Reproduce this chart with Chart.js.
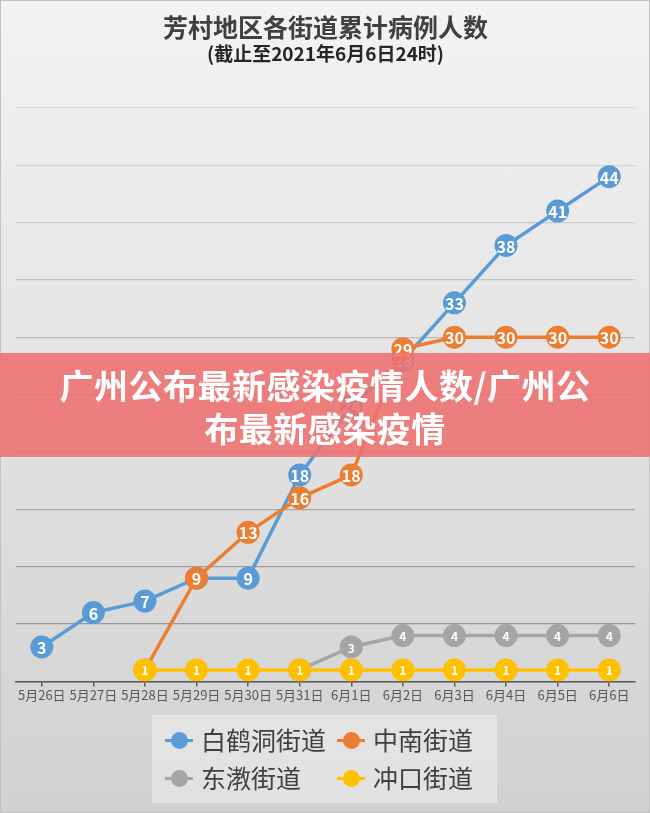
<!DOCTYPE html>
<html>
<head>
<meta charset="utf-8">
<script src="https://cdn.jsdelivr.net/npm/chart.js@4.4.0/dist/chart.umd.min.js"></script>
<style>
body { margin: 0; }
#wrap { position: relative; width: 650px; height: 813px; overflow: hidden;
  background: linear-gradient(#f3f3f3, #d1d1d1); box-shadow: inset 0 0 0 1px #c2c2c2;
  font-family: "Noto Sans CJK SC", sans-serif; }
#cv { position: absolute; left: 0; top: 0; width: 650px; height: 813px; }
#banner { position: absolute; left: 0; top: 353px; width: 650px; height: 104px;
  background: rgba(238, 112, 112, 0.88); color: #fff; font-weight: 700; font-size: 34px;
  letter-spacing: 0.5px; text-align: center; line-height: 43px; padding-top: 10px; box-sizing: border-box; }
#legend { position: absolute; left: 152px; top: 715px; width: 345px; height: 88px;
  background: rgba(255, 255, 255, 0.35); box-sizing: border-box; }
.item { position: absolute; height: 36px; line-height: 36px; font-size: 25px; color: #404040; white-space: nowrap; }
.mk { position: absolute; left: 0; top: 17px; width: 28px; height: 3px; }
.mk i { position: absolute; left: 6px; top: -7px; width: 17px; height: 17px; border-radius: 50%; }
.item span.t { position: absolute; left: 36px; top: -1px; }
</style>
</head>
<body>
<div id="wrap">
  <div id="cv"><canvas id="chart"></canvas></div>
  <div id="banner">广州公布最新感染疫情人数/广州公<br>布最新感染疫情</div>
  <div id="legend"></div>
</div>
<script>
// categories and series
const days = ['5月26日', '5月27日', '5月28日', '5月29日', '5月30日', '5月31日',
              '6月1日', '6月2日', '6月3日', '6月4日', '6月5日', '6月6日'];
const baihedong = [3, 6, 7, 9, 9, 18, 24, 28, 33, 38, 41, 44];
const zhongnan  = [null, null, 1, 9, 13, 16, 18, 29, 30, 30, 30, 30];
const dongjiao  = [null, null, null, null, null, 1, 3, 4, 4, 4, 4, 4];
const chongkou  = [null, null, 1, 1, 1, 1, 1, 1, 1, 1, 1, 1];

const names  = ['白鹤洞街道', '中南街道', '东漖街道', '冲口街道'];
const colors = ['#5b9bd5', '#ed7d31', '#a5a5a5', '#ffc000'];

// write the value inside each point, right after its own dataset is drawn
const pointLabels = {
  id: 'pointLabels',
  afterDatasetDraw(chart, args) {
    const ds = chart.data.datasets[args.index];
    const ctx = chart.ctx;
    ctx.save();
    ctx.fillStyle = '#fff';
    ctx.textAlign = 'center';
    ctx.textBaseline = 'middle';
    ctx.font = 'bold ' + ds.labelSize + 'px "Noto Sans CJK SC"';
    args.meta.data.forEach(function(pt, i) {
      if (ds.data[i] === null) return;
      ctx.fillText(ds.data[i], pt.x, pt.y + 1);
    });
    ctx.restore();
  }
};

function line(i, data, order, labelSize) {
  return {
    label: names[i],
    data: data,
    borderColor: colors[i],
    backgroundColor: colors[i],
    pointBackgroundColor: colors[i],
    pointBorderWidth: 0,
    pointRadius: 11.5,
    pointHoverRadius: 11.5,
    borderWidth: 3.5,
    order: order,
    labelSize: labelSize
  };
}

function mix(a, b, t) {
  return Math.round(a + (b - a) * t);
}

new Chart(document.getElementById('chart'), {
  type: 'line',
  data: {
    labels: days,
    datasets: [
      line(0, baihedong, 4, 16),
      line(1, zhongnan, 3, 16),
      line(2, dongjiao, 2, 12),
      line(3, chongkou, 1, 12)
    ]
  },
  options: {
    responsive: true,
    maintainAspectRatio: false,
    animation: false,
    layout: { padding: { left: 16, right: 15, bottom: 109 } },
    plugins: {
      legend: { display: false },
      tooltip: { enabled: false },
      title: {
        display: true,
        text: '芳村地区各街道累计病例人数',
        color: '#404040',
        font: { family: '"Noto Sans CJK SC"', size: 25, weight: 'bold' },
        padding: { top: 12, bottom: 0 }
      },
      subtitle: {
        display: true,
        text: '(截止至2021年6月6日24时)',
        color: '#262626',
        font: { family: '"Noto Sans CJK SC"', size: 19, weight: 'bold' },
        padding: { top: 0, bottom: 43 }
      }
    },
    scales: {
      x: {
        offset: true,
        grid: { drawOnChartArea: false, drawTicks: true, tickLength: 5, color: '#595959', lineWidth: 1.5 },
        border: { color: '#595959', width: 1.5 },
        ticks: { color: '#595959', padding: 1, maxRotation: 0, minRotation: 0, autoSkip: false,
                 font: { family: '"Noto Sans CJK SC"', size: 13 } }
      },
      y: {
        min: 0,
        max: 50,
        ticks: { display: false, stepSize: 5 },
        border: { display: false },
        grid: {
          drawTicks: false,
          lineWidth: 1.2,
          color: function(c) {
            const t = c.tick.value / 50;
            const g = mix(0x8f, 0xda, t);
            return 'rgb(' + g + ',' + g + ',' + g + ')';
          }
        }
      }
    }
  },
  plugins: [pointLabels]
});

// legend as a 2x2 grid, like the picture
const legend = document.getElementById('legend');
names.forEach(function(n, i) {
  const d = document.createElement('div');
  d.className = 'item';
  d.style.left = (13 + (i % 2) * 172) + 'px';
  d.style.top = (7 + Math.floor(i / 2) * 38) + 'px';
  d.innerHTML = '<div class="mk" style="background:' + colors[i] + '"><i style="background:' + colors[i] +
    '"></i></div><span class="t">' + n + '</span>';
  legend.appendChild(d);
});
</script>
</body>
</html>
